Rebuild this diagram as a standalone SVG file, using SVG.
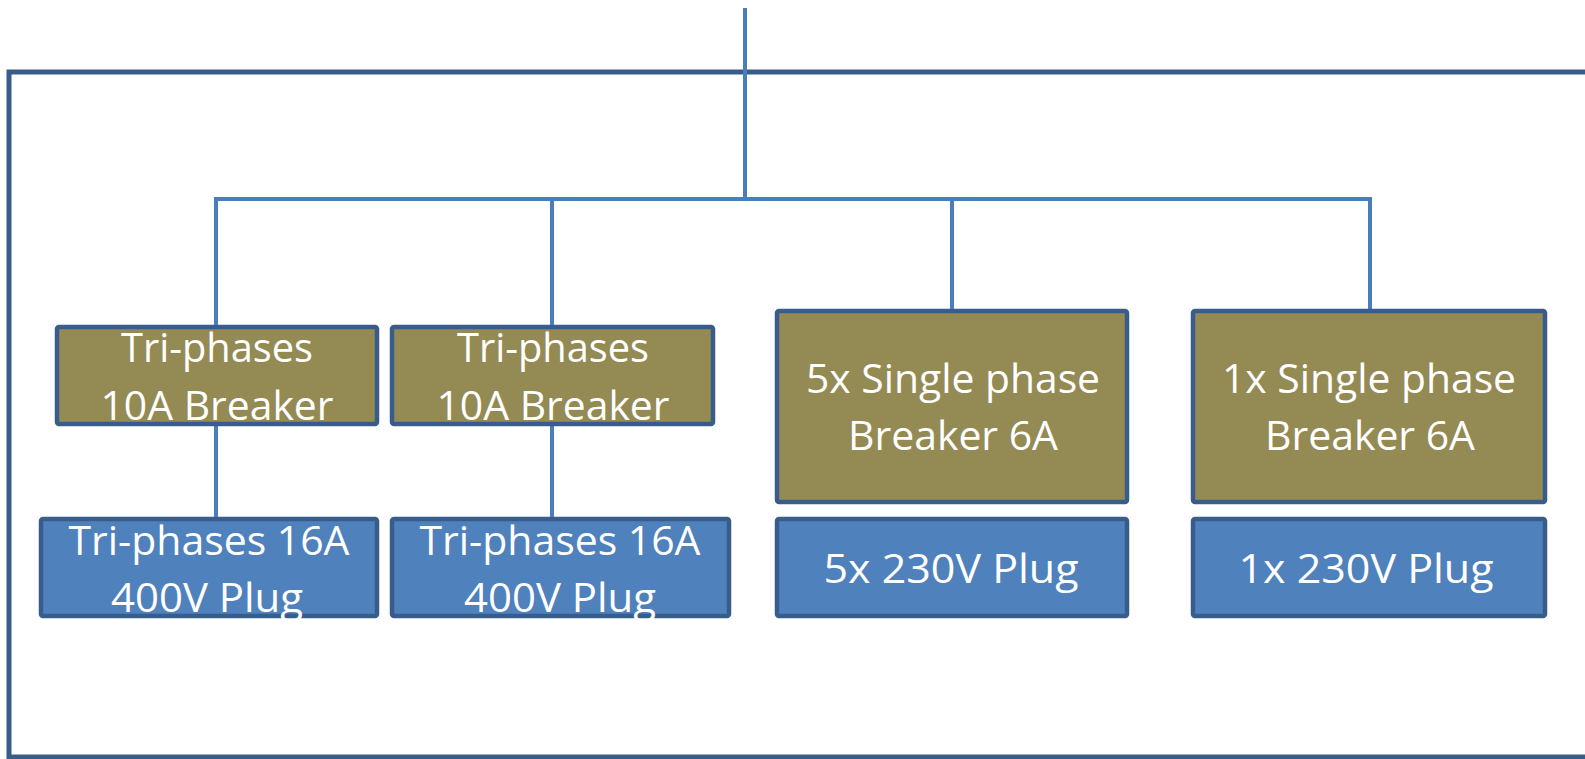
<svg xmlns="http://www.w3.org/2000/svg" width="1585" height="759" viewBox="0 0 1585 759">
<style>
.frame{fill:none;stroke:#385d8a;stroke-width:5}
.wire{fill:none;stroke:#4a7ebb;stroke-width:4}
.brk{fill:#948a54;stroke:#385d8a;stroke-width:4.5}
.plug{fill:#4f81bd;stroke:#385d8a;stroke-width:4.5}
.t{font-family:"Open Sans","Liberation Sans",sans-serif;font-size:40px;fill:#ffffff;text-anchor:middle}
</style>
<rect width="1585" height="759" fill="#ffffff"/>
<g id="frame">
<path class="frame" d="M1590,72 H9 V757 H1590"/>
</g>
<g id="connectors">
<line class="wire" x1="745" y1="8" x2="745" y2="199"/>
<path class="wire" d="M216,326 V199 H1370 V310"/>
<line class="wire" x1="552" y1="199" x2="552" y2="326"/>
<line class="wire" x1="952" y1="199" x2="952" y2="310"/>
<line class="wire" x1="216" y1="425" x2="216" y2="518"/>
<line class="wire" x1="552" y1="425" x2="552" y2="518"/>
</g>
<g id="breaker1">
<rect class="brk" x="57" y="327" width="320" height="97" rx="2"/>
<text class="t" x="217" y="362" textLength="192" lengthAdjust="spacingAndGlyphs">Tri-phases</text>
<text class="t" x="217" y="420" textLength="233" lengthAdjust="spacingAndGlyphs">10A Breaker</text>
</g>
<g id="breaker2">
<rect class="brk" x="392" y="327" width="321" height="97" rx="2"/>
<text class="t" x="553" y="362" textLength="192" lengthAdjust="spacingAndGlyphs">Tri-phases</text>
<text class="t" x="553" y="420" textLength="233" lengthAdjust="spacingAndGlyphs">10A Breaker</text>
</g>
<g id="breaker3">
<rect class="brk" x="777" y="311" width="350" height="191" rx="2"/>
<text class="t" x="953" y="393" textLength="294" lengthAdjust="spacingAndGlyphs">5x Single phase</text>
<text class="t" x="953" y="450" textLength="210" lengthAdjust="spacingAndGlyphs">Breaker 6A</text>
</g>
<g id="breaker4">
<rect class="brk" x="1193" y="311" width="352" height="191" rx="2"/>
<text class="t" x="1369" y="393" textLength="294" lengthAdjust="spacingAndGlyphs">1x Single phase</text>
<text class="t" x="1370" y="450" textLength="210" lengthAdjust="spacingAndGlyphs">Breaker 6A</text>
</g>
<g id="plug1">
<rect class="plug" x="41" y="519" width="336" height="97" rx="2"/>
<text class="t" x="209" y="555" textLength="281" lengthAdjust="spacingAndGlyphs">Tri-phases 16A</text>
<text class="t" x="207" y="612" textLength="192" lengthAdjust="spacingAndGlyphs">400V Plug</text>
</g>
<g id="plug2">
<rect class="plug" x="392" y="519" width="337" height="97" rx="2"/>
<text class="t" x="560" y="555" textLength="281" lengthAdjust="spacingAndGlyphs">Tri-phases 16A</text>
<text class="t" x="560" y="612" textLength="192" lengthAdjust="spacingAndGlyphs">400V Plug</text>
</g>
<g id="plug3">
<rect class="plug" x="777" y="519" width="350" height="97" rx="2"/>
<text class="t" x="951" y="583" textLength="255" lengthAdjust="spacingAndGlyphs">5x 230V Plug</text>
</g>
<g id="plug4">
<rect class="plug" x="1193" y="519" width="352" height="97" rx="2"/>
<text class="t" x="1366" y="583" textLength="255" lengthAdjust="spacingAndGlyphs">1x 230V Plug</text>
</g>
</svg>
